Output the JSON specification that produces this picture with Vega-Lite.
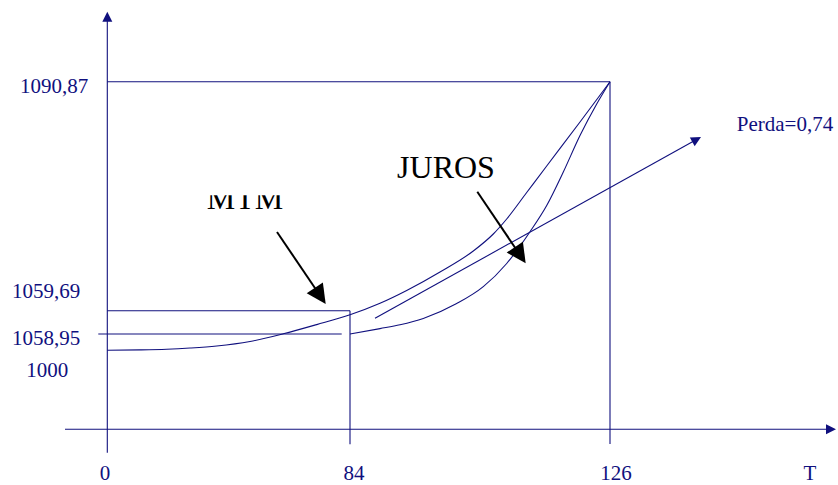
{
  "$schema": "https://vega.github.io/schema/vega-lite/v6.json",
  "width": 838,
  "height": 485,
  "autosize": {"type": "none"},
  "padding": 0,
  "background": "white",
  "config": {"view": {"stroke": null}},
  "datasets": {
    "segments": [
      {"id": "eixo_y", "x": 107.3, "y": 18, "x2": 107.3, "y2": 452.7},
      {"id": "eixo_x", "x": 65, "y": 429.3, "x2": 830, "y2": 429.3},
      {"id": "nivel_1090_87", "x": 107.3, "y": 81.7, "x2": 610, "y2": 81.7},
      {"id": "t_126", "x": 610, "y": 81.7, "x2": 610, "y2": 444},
      {"id": "nivel_1059_69", "x": 107.3, "y": 310.7, "x2": 350, "y2": 310.7},
      {"id": "t_84", "x": 350, "y": 310.7, "x2": 350, "y2": 444.3},
      {"id": "nivel_1058_95", "x": 98.3, "y": 334, "x2": 341.7, "y2": 334},
      {"id": "perda", "x": 375, "y": 318.3, "x2": 697, "y2": 139.2}
    ],
    "pointers": [
      {"id": "MTM", "x": 277, "y": 232, "x2": 318, "y2": 292.5},
      {"id": "JUROS", "x": 477.3, "y": 191.7, "x2": 518, "y2": 252}
    ],
    "curves": [
      {"curve": "superior", "x": 107.3, "y": 350.3},
      {"curve": "superior", "x": 140, "y": 349.9},
      {"curve": "superior", "x": 166.7, "y": 349.2},
      {"curve": "superior", "x": 190, "y": 348.0},
      {"curve": "superior", "x": 216.7, "y": 346.0},
      {"curve": "superior", "x": 250, "y": 341.5},
      {"curve": "superior", "x": 283.3, "y": 333.8},
      {"curve": "superior", "x": 316.7, "y": 324.6},
      {"curve": "superior", "x": 350, "y": 314.8},
      {"curve": "superior", "x": 380, "y": 303.3},
      {"curve": "superior", "x": 406.7, "y": 290.5},
      {"curve": "superior", "x": 440, "y": 272},
      {"curve": "superior", "x": 473.3, "y": 251},
      {"curve": "superior", "x": 493.3, "y": 234},
      {"curve": "superior", "x": 506.7, "y": 219},
      {"curve": "superior", "x": 526.7, "y": 192.5},
      {"curve": "superior", "x": 546.7, "y": 166},
      {"curve": "superior", "x": 580, "y": 122},
      {"curve": "superior", "x": 610, "y": 81.7},
      {"curve": "inferior", "x": 350, "y": 334},
      {"curve": "inferior", "x": 380, "y": 328.6},
      {"curve": "inferior", "x": 400, "y": 324.8},
      {"curve": "inferior", "x": 423.3, "y": 318.5},
      {"curve": "inferior", "x": 456.7, "y": 303.6},
      {"curve": "inferior", "x": 483.3, "y": 286.7},
      {"curve": "inferior", "x": 506.7, "y": 263.5},
      {"curve": "inferior", "x": 530, "y": 231.7},
      {"curve": "inferior", "x": 546.7, "y": 205.5},
      {"curve": "inferior", "x": 563.3, "y": 172},
      {"curve": "inferior", "x": 580, "y": 135.5},
      {"curve": "inferior", "x": 596.7, "y": 104},
      {"curve": "inferior", "x": 610, "y": 81.7}
    ],
    "heads_small": [
      {"id": "eixo_y", "x": 107.3, "y": 11.7, "angle": 0},
      {"id": "eixo_x", "x": 836, "y": 429.3, "angle": 90},
      {"id": "perda", "x": 701, "y": 137, "angle": 61}
    ],
    "heads_big": [
      {"id": "MTM", "x": 325.7, "y": 304, "angle": 146},
      {"id": "JUROS", "x": 525.7, "y": 263.3, "angle": 146}
    ],
    "labels_blue": [
      {"label": "1090,87", "x": 54, "y": 93.3},
      {"label": "1059,69", "x": 46.2, "y": 298.3},
      {"label": "1058,95", "x": 46.2, "y": 345},
      {"label": "1000", "x": 47.2, "y": 376.7},
      {"label": "0", "x": 105, "y": 480},
      {"label": "84", "x": 354, "y": 480},
      {"label": "126", "x": 616, "y": 480},
      {"label": "T", "x": 810, "y": 480},
      {"label": "Perda=0,74", "x": 785, "y": 131}
    ],
    "labels_black": [
      {"label": "JUROS", "x": 446, "y": 178},
      {"label": "MTM", "x": 245, "y": 209}
    ],
    "mask": [
      {"x": 195, "y": 175, "x2": 295, "y2": 195.3}
    ]
  },
  "encoding": {
    "x": {"field": "x", "type": "quantitative", "scale": {"domain": [0, 838], "nice": false, "zero": false}, "axis": null},
    "y": {"field": "y", "type": "quantitative", "scale": {"domain": [0, 485], "nice": false, "zero": false, "reverse": true}, "axis": null}
  },
  "layer": [
    {
      "data": {"name": "segments"},
      "mark": {"type": "rule", "color": "#10107e", "strokeWidth": 1.1},
      "encoding": {"x2": {"field": "x2"}, "y2": {"field": "y2"}}
    },
    {
      "data": {"name": "curves"},
      "mark": {"type": "line", "color": "#10107e", "strokeWidth": 1.1, "interpolate": "monotone"},
      "encoding": {"detail": {"field": "curve"}, "order": {"field": "x", "type": "quantitative"}}
    },
    {
      "data": {"name": "pointers"},
      "mark": {"type": "rule", "color": "black", "strokeWidth": 2},
      "encoding": {"x2": {"field": "x2"}, "y2": {"field": "y2"}}
    },
    {
      "data": {"name": "heads_small"},
      "mark": {"type": "point", "shape": "M0,0L0.5,1L-0.5,1Z", "filled": true, "size": 400, "color": "#10107e", "opacity": 1, "strokeWidth": 0},
      "encoding": {"angle": {"field": "angle", "type": "quantitative", "scale": null}}
    },
    {
      "data": {"name": "heads_big"},
      "mark": {"type": "point", "shape": "M0,0L0.5,1L-0.5,1Z", "filled": true, "size": 1521, "color": "black", "opacity": 1, "strokeWidth": 0},
      "encoding": {"angle": {"field": "angle", "type": "quantitative", "scale": null}}
    },
    {
      "data": {"name": "labels_blue"},
      "mark": {"type": "text", "font": "Liberation Serif", "fontSize": 21, "color": "#10107e", "align": "center", "baseline": "alphabetic"},
      "encoding": {"text": {"field": "label"}}
    },
    {
      "data": {"name": "labels_black"},
      "mark": {"type": "text", "font": "Liberation Serif", "fontSize": 32, "color": "black", "align": "center", "baseline": "alphabetic"},
      "encoding": {"text": {"field": "label"}}
    },
    {
      "data": {"name": "mask"},
      "mark": {"type": "rect", "color": "white", "opacity": 1},
      "encoding": {"x2": {"field": "x2"}, "y2": {"field": "y2"}}
    }
  ]
}
